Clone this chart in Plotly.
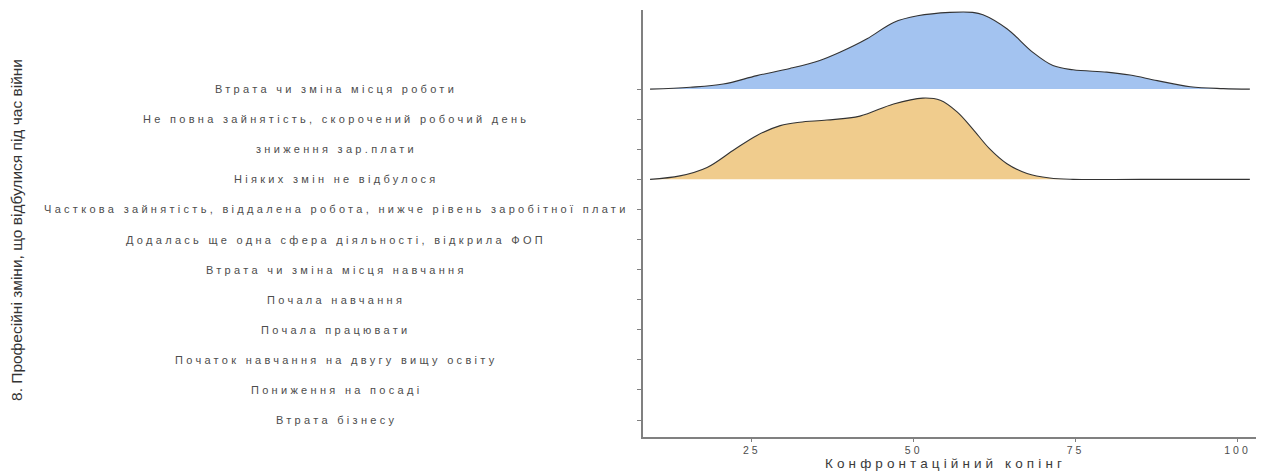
import plotly.graph_objects as go

# Categories, listed top to bottom
categories = [
    "Втрата чи зміна місця роботи",
    "Не повна зайнятість, скорочений робочий день",
    "зниження зар.плати",
    "Ніяких змін не відбулося",
    "Часткова зайнятість, віддалена робота, нижче рівень заробітної плати",
    "Додалась ще одна сфера діяльності, відкрила ФОП",
    "Втрата чи зміна місця навчання",
    "Почала навчання",
    "Почала працювати",
    "Початок навчання на двугу вищу освіту",
    "Пониження на посаді",
    "Втрата бізнесу",
]

# Density estimates of the coping score for the two groups that have data
job_loss_x = [9.3, 15.5, 20.6, 25.8, 30.9, 35.5, 38.6, 42.8, 46.9, 50.6, 55.6, 59.1,
              60.7, 64.4, 68.4, 71.5, 74.6, 79.8, 83.4, 87.6, 92.7, 97.8, 101.9]
job_loss_density = [0.0, 0.0007, 0.0019, 0.0051, 0.0078, 0.0108, 0.0139, 0.0190, 0.0252,
                    0.0277, 0.0290, 0.0290, 0.0281, 0.0228, 0.0139, 0.0089, 0.0073,
                    0.0064, 0.0053, 0.0032, 0.0009, 0.0002, 0.0]

no_change_x = [9.3, 13.9, 18.1, 22.1, 25.8, 29.4, 32.4, 36.6, 41.7, 46.9, 51.4, 54.1,
               56.7, 59.1, 61.7, 64.4, 67.5, 71.0, 74.6, 85.0, 101.9]
no_change_density = [0.0, 0.0013, 0.0045, 0.0109, 0.0166, 0.0203, 0.0216, 0.0224, 0.0239,
                     0.0285, 0.0307, 0.0299, 0.0255, 0.0191, 0.0116, 0.0059, 0.0022,
                     0.0005, 0.0, 0.0, 0.0]

x_ticks = [25, 50, 75, 100]
x_title = "Конфронтаційний копінг"
y_title = "8. Професійні зміни, що відбулися під час війни"

ridges = [
    ("Втрата чи зміна місця роботи", job_loss_x, job_loss_density, "#A3C3F0"),
    ("Ніяких змін не відбулося", no_change_x, no_change_density, "#F0CC8D"),
]

RIDGE_SCALE = 88.0
n = len(categories)
pos = {c: n - i for i, c in enumerate(categories)}

LABEL_FONT = "Liberation Sans, Arial, sans-serif"
AXIS_GREY = "#808080"


def spaced(text, px):
    return f'<span style="letter-spacing:{px}px">{text}</span>'


fig = go.Figure()
for name, xs, ds, colour in ridges:
    base = pos[name]
    fig.add_trace(go.Scatter(
        x=[xs[0], xs[-1]], y=[base, base], mode="lines",
        line=dict(width=0, color=colour), hoverinfo="skip", showlegend=False,
    ))
    fig.add_trace(go.Scatter(
        x=xs, y=[base + d * RIDGE_SCALE for d in ds], mode="lines",
        line=dict(color="#333333", width=1.1, shape="spline", smoothing=1.0),
        fill="tonexty", fillcolor=colour, name=name, showlegend=False,
    ))

annotations = []
for c in categories:
    annotations.append(dict(
        text=spaced(c, 3.3), xref="paper", yref="y", x=-0.5008, y=pos[c],
        xanchor="center", yanchor="middle", showarrow=False,
        font=dict(family=LABEL_FONT, size=11, color="#4d4d4d"),
    ))
annotations.append(dict(
    text=y_title, xref="paper", yref="paper", x=-1.0212, y=0.4848,
    textangle=-90, xanchor="center", yanchor="middle", showarrow=False,
    font=dict(family=LABEL_FONT, size=15.5, color="#333333"),
))
annotations.append(dict(
    text=spaced(x_title, 4.1), xref="paper", yref="paper", x=0.494, y=-0.061,
    xanchor="center", yanchor="middle", showarrow=False,
    font=dict(family=LABEL_FONT, size=13.5, color="#3a3a3a"),
))

fig.update_layout(
    width=1264, height=471,
    margin=dict(l=643, r=8, t=10, b=34),
    paper_bgcolor="white", plot_bgcolor="white",
    annotations=annotations,
    xaxis=dict(
        range=[8.21, 102.85], tickvals=x_ticks,
        ticktext=[spaced(str(t), 3.0) for t in x_ticks],
        ticks="outside", ticklen=3, tickcolor=AXIS_GREY, tickwidth=1.2,
        showline=True, linecolor=AXIS_GREY, linewidth=1.6,
        showgrid=False, zeroline=False,
        tickfont=dict(family=LABEL_FONT, size=10.5, color="#4d4d4d"),
    ),
    yaxis=dict(
        range=[0.435, 14.63], tickvals=[pos[c] for c in categories],
        showticklabels=False,
        ticks="outside", ticklen=4, tickcolor=AXIS_GREY, tickwidth=1.2,
        showline=True, linecolor=AXIS_GREY, linewidth=1.6,
        showgrid=False, zeroline=False,
    ),
)

fig.write_html("out.html")
